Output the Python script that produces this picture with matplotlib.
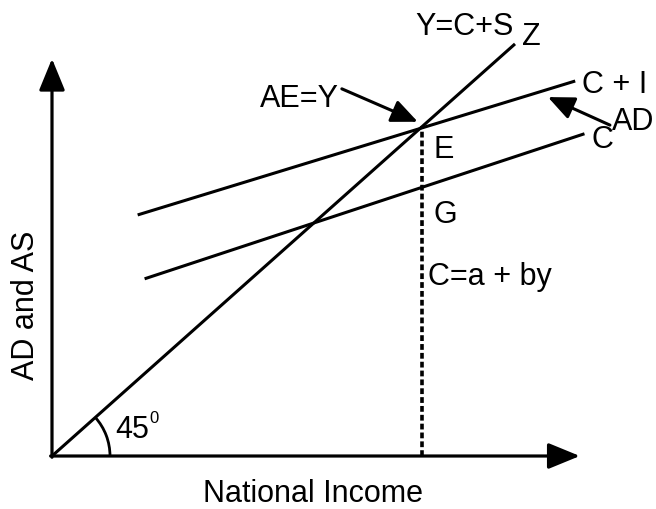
import numpy as np
import matplotlib
matplotlib.use("Agg")
import matplotlib.pyplot as plt
from matplotlib.patches import Arc

plt.rcParams['font.family'] = ['Liberation Sans', 'DejaVu Sans']

# 45 degree line (Y = C + S), aggregate supply
income_45 = [0, 10]
level_45 = [0, 10]

# aggregate demand C + I
ci_income = [1.85, 11.3]
ci_level = [5.85, 9.1]

# consumption C = a + by
c_income = [2.0, 11.5]
c_level = [4.3, 7.82]

# equilibrium E
eq_income = 8.0
eq_level = 8.0

# axis extents
x_max = 11.4
y_max = 9.64

fig = plt.figure(figsize=(6.56, 5.10), dpi=100)
ax = fig.add_axes([0, 0, 1, 1])
ax.set_xlim(-1.123, 13.045)
ax.set_ylim(-1.286, 11.09)
ax.axis('off')

lw = 2.3
# axes with arrow heads
axis_kw = dict(arrowstyle='-|>,head_length=1.95,head_width=0.8',
               lw=lw, color='black', shrinkA=0, shrinkB=0)
ax.annotate('', xy=(x_max, 0), xytext=(-0.03, 0), arrowprops=axis_kw)
ax.annotate('', xy=(0, y_max), xytext=(0, -0.03), arrowprops=axis_kw)

# lines
ax.plot(income_45, level_45, color='black', lw=2.2, solid_capstyle='butt')
ax.plot(ci_income, ci_level, color='black', lw=2.2, solid_capstyle='butt')
ax.plot(c_income, c_level, color='black', lw=2.2, solid_capstyle='butt')
ax.plot([eq_income, eq_income], [0, eq_level], color='black', lw=2.6,
        linestyle=(0, (1.6, 0.85)))

# 45 degree arc
ax.add_patch(Arc((0, 0), 2 * 58 / 46.3, 2 * 58 / 41.2, theta1=0, theta2=45,
                 color='black', lw=2.0))

fs = 22
ax.text(8.9, 10.24, 'Y=C+S', fontsize=fs, ha='center', va='baseline')
ax.text(10.15, 10.0, 'Z', fontsize=fs, ha='left', va='baseline')
ax.text(11.45, 8.83, 'C + I', fontsize=fs, ha='left', va='baseline')
ax.text(12.1, 7.94, 'AD', fontsize=fs, ha='left', va='baseline')
ax.text(11.66, 7.5, 'C', fontsize=fs, ha='left', va='baseline')
ax.text(8.23, 7.26, 'E', fontsize=fs, ha='left', va='baseline')
ax.text(8.23, 5.68, 'G', fontsize=fs, ha='left', va='baseline')
ax.text(8.12, 4.17, 'C=a + by', fontsize=fs, ha='left', va='baseline')
ax.text(4.49, 8.5, 'AE=Y', fontsize=fs, ha='left', va='baseline')
ax.text(1.36, 0.46, '45', fontsize=fs, ha='left', va='baseline')
ax.text(2.1, 0.83, '0', fontsize=12, ha='left', va='baseline')
ax.text(3.26, -1.09, 'National Income', fontsize=fs, ha='left', va='baseline')
ax.text(-0.56, 3.69, 'AD and AS', fontsize=fs, ha='center', va='center', rotation=90)

# pointer arrows
arrow_kw = dict(arrowstyle='-|>,head_length=1.6,head_width=0.7',
                lw=2.2, color='black', shrinkA=0, shrinkB=0)
ax.annotate('', xy=(7.9, 8.11), xytext=(6.26, 8.91), arrowprops=arrow_kw)
ax.annotate('', xy=(10.71, 8.71), xytext=(12.05, 8.03), arrowprops=arrow_kw)

fig.savefig('out.png', dpi=100)
